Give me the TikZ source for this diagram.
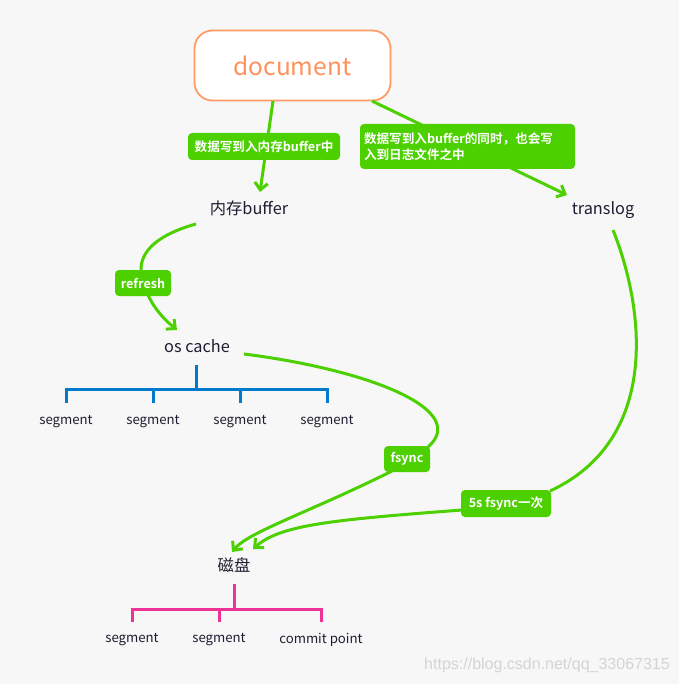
\documentclass[tikz,border=0pt]{standalone}
\usepackage{fontspec}
\setmainfont{Noto Sans CJK SC}[BoldFont={Noto Sans CJK SC Bold}]
\newfontfamily\wmfont{Liberation Sans}
\usetikzlibrary{arrows.meta}
\definecolor{bgc}{RGB}{247,247,247}
\definecolor{grn}{RGB}{76,208,0}
\definecolor{orgb}{RGB}{255,155,100}
\definecolor{orgt}{RGB}{255,145,90}
\definecolor{bluc}{RGB}{0,122,204}
\definecolor{pinc}{RGB}{238,50,150}
\definecolor{txtc}{RGB}{30,30,50}
\tikzset{
  topic/.style={text=txtc, font=\fontsize{16.3}{19}\selectfont, inner sep=1pt},
  leaf/.style={text=txtc, font=\fontsize{13.2}{15}\selectfont, inner sep=1pt},
  lbl/.style={fill=grn, text=white, rounded corners=4pt, font=\bfseries\fontsize{12.6}{16}\selectfont, inner sep=0pt},
  conn/.style={draw=grn, line width=3pt},
  arr/.style={conn, -{Straight Barb[length=7pt,width=13pt,line width=3pt]}},
  btree/.style={draw=bluc, line width=3pt},
  ptree/.style={draw=pinc, line width=3pt},
}
\begin{document}
\begin{tikzpicture}[x=1pt,y=-1pt]
\fill[bgc] (0,0) rectangle (679,684);
\useasboundingbox (0,0) rectangle (679,684);

% document
\node[draw=orgb, line width=1.8pt, fill=white, rounded corners=18pt, minimum width=196pt, minimum height=70pt, text=orgt, font=\fontsize{24.5}{28}\selectfont] (doc) at (292.5,65.5) {document};

% topics
\node[topic] (buf) at (249,208) {内存buffer};
\node[topic] (tlog) at (603,210) {translog};
\node[topic] (osc) at (197,346) {os cache};
\node[topic] (disk) at (234,565) {磁盘};

% connector anchor coordinates
\coordinate (d1) at (273,101);
\coordinate (b1) at (260,192);
\coordinate (d2) at (372,101);
\coordinate (t1) at (567,195);
\coordinate (bs) at (196,224);
\coordinate (rt) at (141,271);
\coordinate (rb) at (148,295);
\coordinate (oc) at (177,330);
\coordinate (os) at (244,354);
\coordinate (ft) at (428,447);
\coordinate (fb) at (392,471);
\coordinate (k1) at (232,552);
\coordinate (ts) at (613,230);
\coordinate (st) at (550,491);
\coordinate (sl) at (462,510);
\coordinate (k2) at (253,549);

% straight arrows
\draw[arr] (d1) -- (b1);
\draw[arr] (d2) -- (t1);
% refresh
\draw[conn] (bs) .. controls (160,234) and (140,250) .. (rt);
\draw[arr] (rb) .. controls (155,310) and (165,320) .. (oc);
% fsync
\draw[conn] (os) .. controls (370,370) and (470,410) .. (ft);
\draw[arr] (fb) .. controls (310,512) and (248,532) .. (k1);
% translog
\draw[conn] (ts) .. controls (645,310) and (660,440) .. (st);
\draw[arr] (sl) .. controls (330,520) and (280,525) .. (k2);

% labels
\node[lbl, minimum width=152pt, minimum height=27pt] (l1) at (264,146.5) {数据写到入内存buffer中};
\node[lbl, minimum width=215pt, minimum height=45pt, align=left, text width=207pt] (l2) at (467.5,146.5) {数据写到入buffer的同时，也会写\\入到日志文件之中};
\node[lbl, minimum width=56pt, minimum height=26pt] (l3) at (143,283) {refresh};
\node[lbl, minimum width=46pt, minimum height=26pt] (l4) at (407,459) {fsync};
\node[lbl, minimum width=90pt, minimum height=27pt] (l5) at (506,503.5) {5s fsync一次};

% blue tree
\coordinate (bt0) at (196,365);
\coordinate (bt1) at (196,389);
\coordinate (bl) at (66,389);
\coordinate (br) at (327,389);
\foreach \x/\n in {66/a,153/b,240/c,327/d}{
  \coordinate (bj\n) at (\x,389);
  \coordinate (be\n) at (\x,403);
  \node[leaf] (seg\n) at (\x,422) {segment};
}
\draw[btree] (bt0) -- (bt1);
\draw[btree] ([xshift=-1.5pt]bl) -- ([xshift=1.5pt]br);
\foreach \n in {a,b,c,d}{\draw[btree] (bj\n) -- (be\n);}

% pink tree
\coordinate (pt0) at (234,584);
\coordinate (pt1) at (234,609);
\coordinate (pl) at (132,609);
\coordinate (pr) at (321,609);
\foreach \x/\n in {132/a,219/b,321/c}{
  \coordinate (pj\n) at (\x,609);
  \coordinate (pe\n) at (\x,622);
}
\draw[ptree] (pt0) -- (pt1);
\draw[ptree] ([xshift=-1.5pt]pl) -- ([xshift=1.5pt]pr);
\foreach \n in {a,b,c}{\draw[ptree] (pj\n) -- (pe\n);}
\node[leaf] (dsa) at (132,640) {segment};
\node[leaf] (dsb) at (219,640) {segment};
\node[leaf] (dsc) at (321,640) {commit point};

% watermark
\node[text={rgb,255:red,212;green,212;blue,212}, font=\wmfont\fontsize{16}{18}\selectfont] (wm) at (547,665) {https://blog.csdn.net/qq\_33067315};
\end{tikzpicture}
\end{document}
